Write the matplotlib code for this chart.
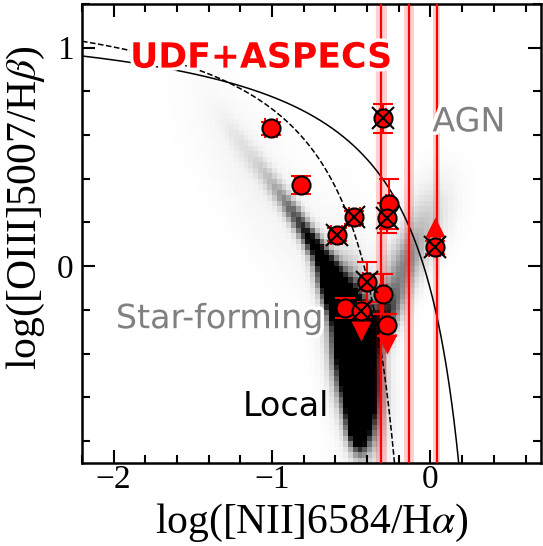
import numpy as np
import matplotlib
matplotlib.use('Agg')
import matplotlib.pyplot as plt
import matplotlib.patheffects as pe
from matplotlib.ticker import MultipleLocator

plt.rcParams['font.family'] = 'serif'
plt.rcParams['font.serif'] = ['Liberation Serif', 'DejaVu Serif']
plt.rcParams['mathtext.fontset'] = 'stix'

# UDF+ASPECS galaxies with both line ratios (plain circles)
circ_nii = [-1.007, -0.819, -0.261, -0.297, -0.537, -0.276]
circ_oiii = [0.630, 0.371, 0.284, -0.127, -0.192, -0.268]
circ_nii_err = [0.035, 0.035, 0.02, 0.02, 0.03, 0.02]
circ_oiii_err = [0.03, 0.04, 0.115, 0.09, 0.046, 0.05]

# galaxies flagged with a cross
cross_nii = [-0.301, -0.480, -0.593, -0.277, -0.403, -0.436, 0.027]
cross_oiii = [0.676, 0.224, 0.144, 0.220, -0.073, -0.203, 0.087]
cross_nii_err = [0.02, 0.035, 0.035, 0.02, 0.02, 0.02, 0.035]
cross_oiii_err = [0.065, 0.03, 0.03, 0.07, 0.09, 0.03, 0.03]

# limits on [OIII]/Hb
upper_nii = [-0.436, -0.276]
upper_oiii = [-0.294, -0.355]
lower_nii = [0.027]
lower_oiii = [0.178]

# galaxies with only [NII]/Ha
nii_only = [-0.311, -0.136, 0.038]
nii_only_err = [0.035, 0.03, 0.022]

# local SDSS sample: density described as elongated components
# (x, y, sigma along, sigma across, angle [deg], weight)
local_x = [-1.20, -1.00, -0.86, -0.74, -1.05, -0.60, -0.47, -0.46, -0.45, -0.30, -0.17, -0.02]
local_y = [0.56, 0.38, 0.24, 0.10, 0.35, -0.12, -0.42, -0.72, -0.40, -0.25, 0.00, 0.22]
local_sa = [0.14, 0.12, 0.10, 0.10, 0.45, 0.12, 0.20, 0.08, 0.40, 0.12, 0.14, 0.15]
local_sp = [0.04, 0.035, 0.035, 0.035, 0.15, 0.05, 0.08, 0.04, 0.15, 0.06, 0.08, 0.10]
local_ang = [-47, -47, -47, -47, -47, -60, -80, -85, -80, 55, 55, 55]
local_w = [0.12, 0.25, 0.45, 0.8, 0.09, 2.0, 3.0, 1.5, 0.12, 0.8, 0.45, 0.25]

xlim = (-2.2, 0.7)
ylim = (-0.9, 1.2)

fig = plt.figure(figsize=(5.43, 5.46), dpi=100)
ax = fig.add_axes([0.151, 0.152, 0.846, 0.841])

# binned local density
xe = np.arange(xlim[0], xlim[1] + 1e-6, 0.03)
ye = np.arange(ylim[0], ylim[1] + 1e-6, 0.025)
X, Y = np.meshgrid(0.5 * (xe[1:] + xe[:-1]), 0.5 * (ye[1:] + ye[:-1]))
dens = np.zeros_like(X)
for cx, cy, sa, sp, ang, w in zip(local_x, local_y, local_sa, local_sp, local_ang, local_w):
    t = np.deg2rad(ang)
    u = (X - cx) * np.cos(t) + (Y - cy) * np.sin(t)
    v = -(X - cx) * np.sin(t) + (Y - cy) * np.cos(t)
    dens += w * np.exp(-0.5 * ((u / sa) ** 2 + (v / sp) ** 2))
ax.pcolormesh(xe, ye, dens, cmap='Greys', vmin=0, vmax=1, shading='flat', zorder=0)

# Kauffmann+03 and Kewley+01 demarcations
xk = np.linspace(xlim[0], 0.04, 400)
ax.plot(xk, 0.61 / (xk - 0.05) + 1.3, 'k--', lw=1.1, zorder=2)
xw = np.linspace(xlim[0], 0.46, 600)
ax.plot(xw, 0.61 / (xw - 0.47) + 1.19, 'k-', lw=1.1, zorder=2)

# [NII]/Ha only
for xv, xerr in zip(nii_only, nii_only_err):
    ax.axvspan(xv - xerr, xv + xerr, color='red', alpha=0.18, lw=0, zorder=1)
    ax.axvline(xv, color='red', lw=1.6, zorder=3)

ekw = dict(fmt='none', ecolor='red', elinewidth=1.5, capsize=7, capthick=1.5, zorder=4)
ax.errorbar(circ_nii, circ_oiii, xerr=circ_nii_err, yerr=circ_oiii_err, **ekw)
ax.errorbar(cross_nii, cross_oiii, xerr=cross_nii_err, yerr=cross_oiii_err, **ekw)

ax.plot(upper_nii, upper_oiii, 'v', color='red', ms=15, mec='none', zorder=5)
ax.plot(lower_nii, lower_oiii, '^', color='red', ms=15, mec='none', zorder=5)

ax.plot(circ_nii, circ_oiii, 'o', color='red', mec='black', mew=1.5, ms=13, zorder=6)
ax.plot(cross_nii, cross_oiii, 'o', color='red', mec='black', mew=1.5, ms=13, zorder=6)
ax.plot(cross_nii, cross_oiii, 'x', color='black', mew=1.5, ms=16, zorder=7)

halo = [pe.withStroke(linewidth=5, foreground='white')]
ax.text(-1.068, 0.954, 'UDF+ASPECS', color='red', fontsize=25, fontweight='bold',
        family='DejaVu Sans', ha='center', va='center', path_effects=halo, zorder=8)
ax.text(0.243, 0.66, 'AGN', color='grey', fontsize=24, family='DejaVu Sans',
        ha='center', va='center', path_effects=halo, zorder=8)
ax.text(-1.33, -0.24, 'Star-forming', color='grey', fontsize=24, family='DejaVu Sans',
        ha='center', va='center', path_effects=halo, zorder=8)
ax.text(-0.914, -0.643, 'Local', color='black', fontsize=24, family='DejaVu Sans',
        ha='center', va='center', zorder=8)

ax.set_xlim(xlim)
ax.set_ylim(ylim)
ax.xaxis.set_major_locator(MultipleLocator(1))
ax.xaxis.set_minor_locator(MultipleLocator(0.2))
ax.yaxis.set_major_locator(MultipleLocator(1))
ax.yaxis.set_minor_locator(MultipleLocator(0.2))
ax.tick_params(which='both', direction='in', top=True, right=True, width=1.5, labelsize=24)
ax.tick_params(which='major', length=9.5)
ax.tick_params(which='minor', length=5.5)
ax.tick_params(axis='x', which='major', pad=1)
ax.tick_params(axis='y', which='major', pad=6)
for s in ax.spines.values():
    s.set_linewidth(1.8)

ax.set_xlabel('log([NII]6584/H$\\alpha$)', fontsize=30, labelpad=5)
ax.set_ylabel('log([OIII]5007/H$\\beta$)', fontsize=30)
ax.yaxis.set_label_coords(-0.076, 0.556)

fig.savefig('out.png', dpi=100)
